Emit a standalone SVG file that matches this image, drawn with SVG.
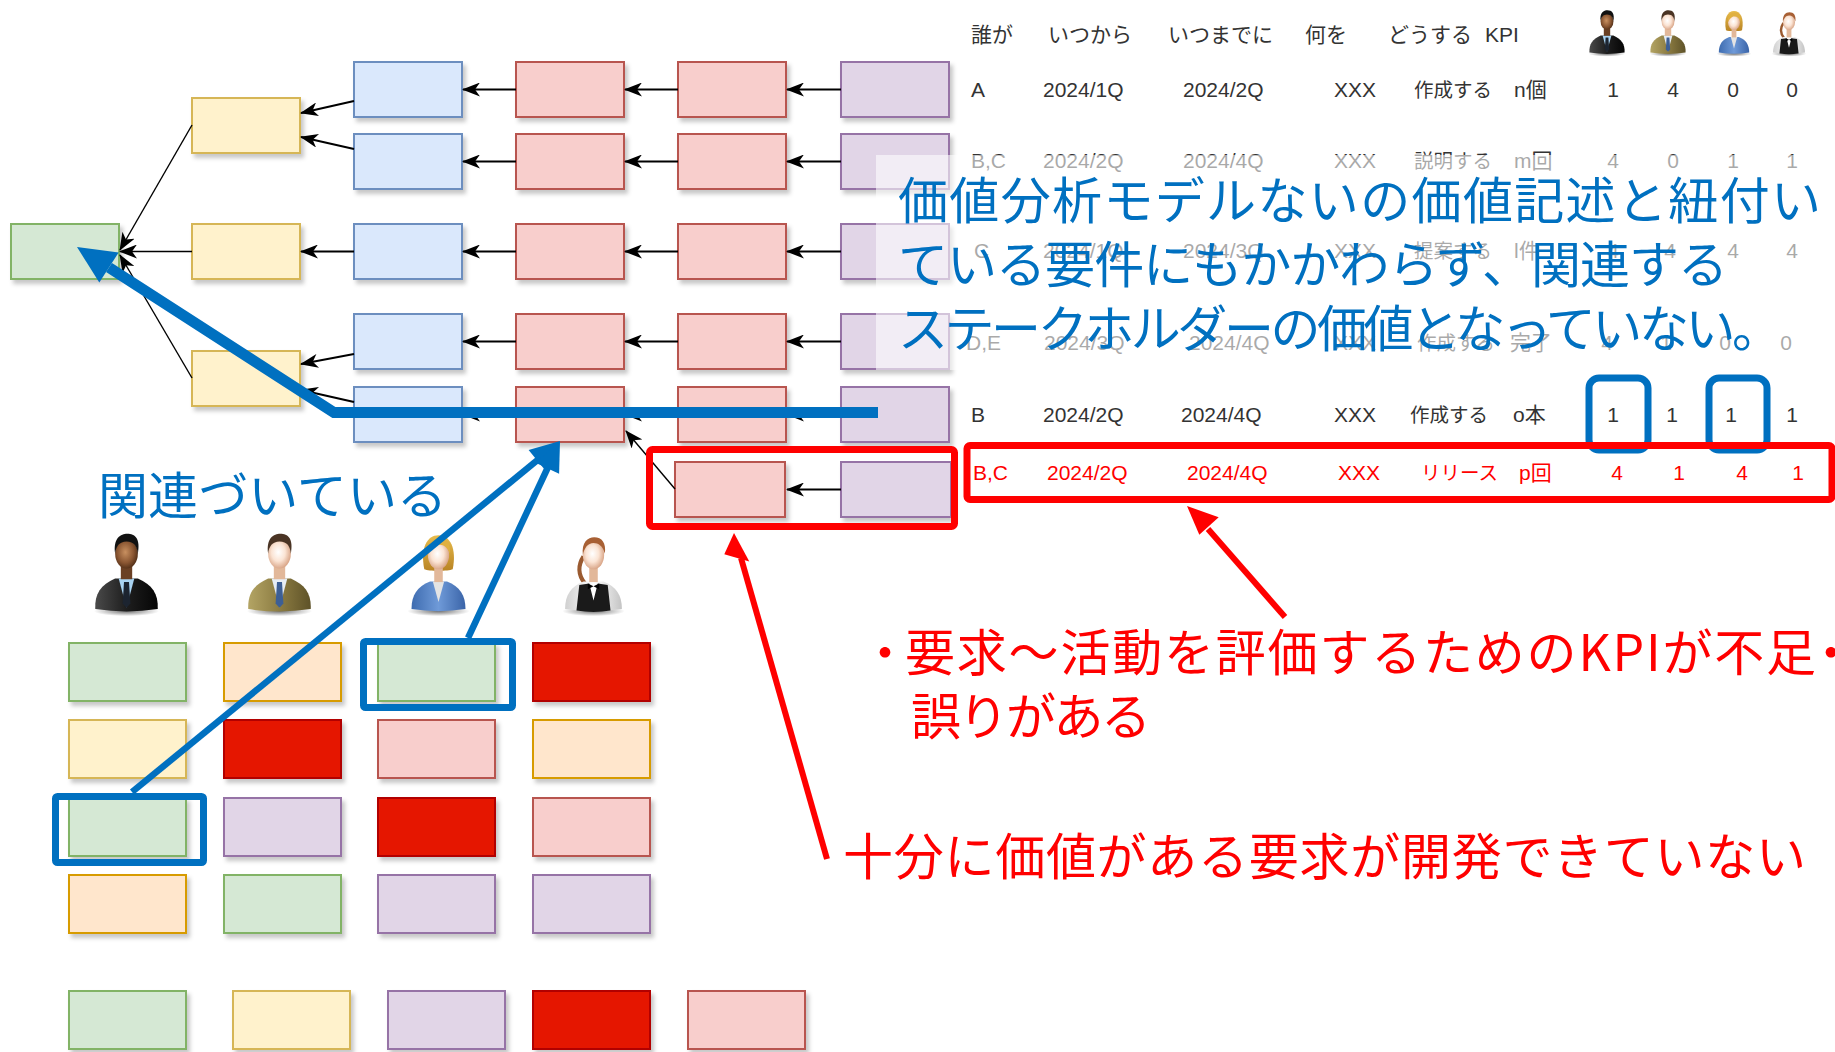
<svg xmlns="http://www.w3.org/2000/svg" xmlns:xlink="http://www.w3.org/1999/xlink" width="1835" height="1052" viewBox="0 0 1835 1052">
  <style>
    .bx{stroke-width:2;filter:url(#sh)}
    .g{fill:#d5e8d4;stroke:#82b366}
    .y{fill:#fff2cc;stroke:#d6b656}
    .b{fill:#dae8fc;stroke:#6c8ebf}
    .r{fill:#f8cecc;stroke:#b85450}
    .p{fill:#e1d5e7;stroke:#9673a6}
    .o{fill:#ffe6cc;stroke:#d79b00}
    .d{fill:#e51400;stroke:#b20000}
    .c{fill:none;stroke:#000;stroke-width:2;marker-end:url(#ah)}
    .thin{stroke-width:1.4}
    .tb{font-family:"Liberation Sans","Noto Sans CJK JP",sans-serif;font-size:21px;fill:#333}
    .tj{font-size:19.5px}
    .n{text-anchor:middle}
    .rt{fill:#ff0000}
    .big{font-family:"Noto Sans CJK JP",sans-serif;font-size:50px}
    .blue{fill:#0070c0}
    .red{fill:#ff0000}
    .hlb{fill:none;stroke:#0070c0;stroke-width:7}
    .hlr{fill:none;stroke:#ff0000;stroke-width:7}
  </style>
  <defs>
    <filter id="sh" x="-10%" y="-10%" width="130%" height="145%">
      <feDropShadow dx="3" dy="4" stdDeviation="2" flood-color="#000" flood-opacity="0.22"/>
    </filter>
    <marker id="ah" viewBox="0 0 18 14" refX="17" refY="7" markerWidth="18" markerHeight="14" markerUnits="userSpaceOnUse" orient="auto">
      <path d="M0,0 L18,7 L0,14 L5,7 Z" fill="#000"/>
    </marker>
    <radialGradient id="shd" cx="0.5" cy="0.5" r="0.5">
      <stop offset="0" stop-color="#000" stop-opacity="0.55"/>
      <stop offset="1" stop-color="#000" stop-opacity="0"/>
    </radialGradient>
    <radialGradient id="skinL" cx="0.45" cy="0.45" r="0.6">
      <stop offset="0" stop-color="#ffffff"/>
      <stop offset="0.5" stop-color="#fbe4d4"/>
      <stop offset="1" stop-color="#d49c7c"/>
    </radialGradient>
    <radialGradient id="skinD" cx="0.45" cy="0.45" r="0.6">
      <stop offset="0" stop-color="#c89060"/>
      <stop offset="0.6" stop-color="#8a5632"/>
      <stop offset="1" stop-color="#4a2a14"/>
    </radialGradient>
    <linearGradient id="suitK" x1="0" y1="0" x2="1" y2="0">
      <stop offset="0" stop-color="#4a4a4a"/>
      <stop offset="0.5" stop-color="#1e1e1e"/>
      <stop offset="1" stop-color="#050505"/>
    </linearGradient>
    <linearGradient id="suitO" x1="0" y1="0" x2="1" y2="0">
      <stop offset="0" stop-color="#b3a464"/>
      <stop offset="0.5" stop-color="#8c7c42"/>
      <stop offset="1" stop-color="#5e5228"/>
    </linearGradient>
    <linearGradient id="jackB" x1="0" y1="0" x2="1" y2="0">
      <stop offset="0" stop-color="#3e6cb0"/>
      <stop offset="0.5" stop-color="#6f9ad8"/>
      <stop offset="1" stop-color="#3a64a8"/>
    </linearGradient>
    <linearGradient id="shirtW" x1="0" y1="0" x2="1" y2="0">
      <stop offset="0" stop-color="#d0d0d0"/>
      <stop offset="0.5" stop-color="#ffffff"/>
      <stop offset="1" stop-color="#c4c4c4"/>
    </linearGradient>
    <linearGradient id="hairB" x1="0" y1="0" x2="0" y2="1">
      <stop offset="0" stop-color="#e8bc4c"/>
      <stop offset="1" stop-color="#b98424"/>
    </linearGradient>

    <!-- stakeholder figures, 100 x 125 local units -->
    <symbol id="man1" viewBox="0 0 100 125">
      <ellipse cx="50" cy="117" rx="46" ry="7" fill="url(#shd)"/>
      <path d="M6,114 C5,92 14,80 34,71 L66,71 C86,80 95,92 94,114 Q50,121 6,114 Z" fill="url(#suitK)"/>
      <path d="M39,71 L50,112 L61,71 Z" fill="#a9d3f2"/>
      <path d="M46.5,76 L53.5,76 L55.5,106 L50,112 L44.5,106 Z" fill="#1c2430"/>
      <rect x="42" y="52" width="16" height="20" fill="#6a4024"/>
      <ellipse cx="50" cy="36" rx="16" ry="21" fill="url(#skinD)"/>
      <path d="M34,36 C31,14 42,8 51,8 C62,8 70,15 66,36 C65,26 61,19 50,19 C40,19 35,26 34,36 Z" fill="#111"/>
    </symbol>
    <symbol id="man2" viewBox="0 0 100 125">
      <ellipse cx="50" cy="117" rx="46" ry="7" fill="url(#shd)"/>
      <path d="M6,114 C5,92 14,80 34,71 L66,71 C86,80 95,92 94,114 Q50,121 6,114 Z" fill="url(#suitO)"/>
      <path d="M39,71 L50,112 L61,71 Z" fill="#e6edf5"/>
      <path d="M46.5,76 L53.5,76 L55.5,106 L50,112 L44.5,106 Z" fill="#3d5f95"/>
      <rect x="42" y="52" width="16" height="20" fill="#e2b89a"/>
      <ellipse cx="50" cy="36" rx="16" ry="21" fill="url(#skinL)"/>
      <path d="M34,36 C31,14 42,8 51,8 C62,8 70,15 66,36 C65,26 61,19 50,19 C40,19 35,26 34,36 Z" fill="#4a3424"/>
    </symbol>
    <symbol id="woman1" viewBox="0 0 100 125">
      <ellipse cx="50" cy="117" rx="44" ry="7" fill="url(#shd)"/>
      <path d="M30,58 C24,28 34,10 50,10 C66,10 76,28 70,58 C64,61 36,61 30,58 Z" fill="url(#hairB)"/>
      <path d="M12,114 C12,94 20,82 38,75 L62,75 C80,82 88,94 88,114 Q50,120 12,114 Z" fill="url(#jackB)"/>
      <path d="M42,75 L50,104 L58,75 Z" fill="#e4e4e4"/>
      <rect x="44" y="54" width="12" height="22" fill="#e2b89a"/>
      <ellipse cx="50" cy="38" rx="15" ry="20" fill="url(#skinL)"/>
      <path d="M35,38 C34,22 42,14 52,14 C62,14 67,22 66,36 C62,26 56,22 48,24 C42,26 38,32 35,38 Z" fill="#e0b040"/>
    </symbol>
    <symbol id="woman2" viewBox="0 0 100 125">
      <ellipse cx="50" cy="117" rx="44" ry="7" fill="url(#shd)"/>
      <path d="M36,40 C28,52 28,66 38,78" fill="none" stroke="#9a5a30" stroke-width="6"/>
      <path d="M10,114 C10,94 18,82 36,75 L64,75 C82,82 90,94 90,114 Q50,120 10,114 Z" fill="url(#shirtW)"/>
      <path d="M30,80 L44,78 L50,102 L56,78 L70,80 L74,116 Q50,120 26,116 Z" fill="#1a1a1a"/>
      <path d="M42,78 L50,82 L58,78 L58,86 L50,82 L42,86 Z" fill="#000"/>
      <rect x="44" y="54" width="12" height="22" fill="#e2b89a"/>
      <ellipse cx="50" cy="38" rx="15" ry="20" fill="url(#skinL)"/>
      <path d="M35,38 C33,20 42,13 51,13 C62,13 68,21 66,36 C63,25 57,21 50,21 C42,21 37,28 35,38 Z" fill="#a86034"/>
    </symbol>
  </defs>

  <rect width="1835" height="1052" fill="#ffffff"/>

  <!-- value tree: root, value groups and requirement chains -->
  <g id="tree">
    <g id="root"><rect class="bx g" x="11" y="224" width="108" height="55"/></g>
    <g id="v1"><rect class="bx y" x="192" y="98" width="108" height="55"/></g>
    <g id="v2"><rect class="bx y" x="192" y="224" width="108" height="55"/></g>
    <g id="v3"><rect class="bx y" x="192" y="351" width="108" height="55"/></g>

    <g id="b1"><rect class="bx b" x="354" y="62" width="108" height="55"/></g>
    <g id="b2"><rect class="bx b" x="354" y="134" width="108" height="55"/></g>
    <g id="b3"><rect class="bx b" x="354" y="224" width="108" height="55"/></g>
    <g id="b4"><rect class="bx b" x="354" y="314" width="108" height="55"/></g>
    <g id="b5"><rect class="bx b" x="354" y="387" width="108" height="55"/></g>

    <g id="ra1"><rect class="bx r" x="516" y="62" width="108" height="55"/></g>
    <g id="ra2"><rect class="bx r" x="516" y="134" width="108" height="55"/></g>
    <g id="ra3"><rect class="bx r" x="516" y="224" width="108" height="55"/></g>
    <g id="ra4"><rect class="bx r" x="516" y="314" width="108" height="55"/></g>
    <g id="ra5"><rect class="bx r" x="516" y="387" width="108" height="55"/></g>

    <g id="rb1"><rect class="bx r" x="678" y="62" width="108" height="55"/></g>
    <g id="rb2"><rect class="bx r" x="678" y="134" width="108" height="55"/></g>
    <g id="rb3"><rect class="bx r" x="678" y="224" width="108" height="55"/></g>
    <g id="rb4"><rect class="bx r" x="678" y="314" width="108" height="55"/></g>
    <g id="rb5"><rect class="bx r" x="678" y="387" width="108" height="55"/></g>
    <g id="rb6"><rect class="bx r" x="675" y="462" width="110" height="55"/></g>

    <g id="p1"><rect class="bx p" x="841" y="62" width="108" height="55"/></g>
    <g id="p2"><rect class="bx p" x="841" y="134" width="108" height="55"/></g>
    <g id="p3"><rect class="bx p" x="841" y="224" width="108" height="55"/></g>
    <g id="p4"><rect class="bx p" x="841" y="314" width="108" height="55"/></g>
    <g id="p5"><rect class="bx p" x="841" y="387" width="108" height="55"/></g>
    <g id="p6"><rect class="bx p" x="841" y="462" width="110" height="55"/></g>
  </g>

  <!-- tree connectors -->
  <g id="connectors">
    <path class="c" d="M841,89.5 L787,89.5"/>
    <path class="c" d="M678,89.5 L625,89.5"/>
    <path class="c" d="M516,89.5 L463,89.5"/>
    <path class="c" d="M841,161.5 L787,161.5"/>
    <path class="c" d="M678,161.5 L625,161.5"/>
    <path class="c" d="M516,161.5 L463,161.5"/>
    <path class="c" d="M841,251.5 L787,251.5"/>
    <path class="c" d="M678,251.5 L625,251.5"/>
    <path class="c" d="M516,251.5 L463,251.5"/>
    <path class="c" d="M841,341.5 L787,341.5"/>
    <path class="c" d="M678,341.5 L625,341.5"/>
    <path class="c" d="M516,341.5 L463,341.5"/>
    <path class="c" d="M841,414.5 L787,414.5"/>
    <path class="c" d="M678,414.5 L625,414.5"/>
    <path class="c" d="M516,414.5 L463,414.5"/>
    <path class="c" d="M841,489.5 L787,489.5"/>
    <path class="c thin" d="M675,489 L626,431"/>

    <path class="c" d="M354,101 L301,113"/>
    <path class="c" d="M354,149 L301,137"/>
    <path class="c" d="M354,251.5 L301,251.5"/>
    <path class="c" d="M354,354 L301,364"/>
    <path class="c" d="M354,402 L301,390"/>

    <path class="c thin" d="M192,125 L120,250"/>
    <path class="c thin" d="M192,251.5 L120,251.5"/>
    <path class="c thin" d="M192,378 L120,255"/>
  </g>

  <!-- action table -->
  <g id="table">
    <g id="head" class="tb">
      <text x="971" y="42">誰が</text>
      <text x="1048" y="42">いつから</text>
      <text x="1168" y="42">いつまでに</text>
      <text x="1305" y="42">何を</text>
      <text x="1388" y="42">どうする</text>
      <text x="1485" y="42">KPI</text>
    </g>
    <g id="stakeholders-top">
      <use href="#man1" x="1587" y="7" width="40" height="50"/>
      <use href="#man2" x="1648" y="7" width="40" height="50"/>
      <use href="#woman1" x="1714" y="7" width="40" height="50"/>
      <use href="#woman2" x="1769" y="7" width="40" height="50"/>
    </g>
    <g id="rowA" class="tb">
      <text x="971" y="97">A</text>
      <text x="1043" y="97">2024/1Q</text>
      <text x="1183" y="97">2024/2Q</text>
      <text x="1334" y="97">XXX</text>
      <text class="tj" x="1414" y="97">作成する</text>
      <text x="1514" y="97">n個</text>
      <text class="n" x="1613" y="97">1</text>
      <text class="n" x="1673" y="97">4</text>
      <text class="n" x="1733" y="97">0</text>
      <text class="n" x="1792" y="97">0</text>
    </g>
    <g id="rowBC" class="tb">
      <text x="971" y="168">B,C</text>
      <text x="1043" y="168">2024/2Q</text>
      <text x="1183" y="168">2024/4Q</text>
      <text x="1334" y="168">XXX</text>
      <text class="tj" x="1414" y="168">説明する</text>
      <text x="1514" y="168">m回</text>
      <text class="n" x="1613" y="168">4</text>
      <text class="n" x="1673" y="168">0</text>
      <text class="n" x="1733" y="168">1</text>
      <text class="n" x="1792" y="168">1</text>
    </g>
    <g id="rowC" class="tb">
      <text x="974" y="258">C</text>
      <text x="1043" y="258">2024/1Q</text>
      <text x="1183" y="258">2024/3Q</text>
      <text x="1334" y="258">XXX</text>
      <text class="tj" x="1414" y="258">提案する</text>
      <text x="1514" y="258">l件</text>
      <text class="n" x="1613" y="258">4</text>
      <text class="n" x="1670" y="258">4</text>
      <text class="n" x="1733" y="258">4</text>
      <text class="n" x="1792" y="258">4</text>
    </g>
    <g id="rowDE" class="tb">
      <text x="966" y="350">D,E</text>
      <text x="1044" y="350">2024/3Q</text>
      <text x="1189" y="350">2024/4Q</text>
      <text x="1334" y="350">XXX</text>
      <text class="tj" x="1417" y="350">作成する</text>
      <text x="1510" y="350">完了</text>
      <text class="n" x="1607" y="350">4</text>
      <text class="n" x="1666" y="350">1</text>
      <text class="n" x="1725" y="350">0</text>
      <text class="n" x="1786" y="350">0</text>
    </g>
    <g id="rowB" class="tb">
      <text x="971" y="422">B</text>
      <text x="1043" y="422">2024/2Q</text>
      <text x="1181" y="422">2024/4Q</text>
      <text x="1334" y="422">XXX</text>
      <text class="tj" x="1410" y="422">作成する</text>
      <text x="1513" y="422">o本</text>
      <text class="n" x="1613" y="422">1</text>
      <text class="n" x="1672" y="422">1</text>
      <text class="n" x="1731" y="422">1</text>
      <text class="n" x="1792" y="422">1</text>
    </g>
    <g id="rowBC2" class="tb rt">
      <text x="973" y="480">B,C</text>
      <text x="1047" y="480">2024/2Q</text>
      <text x="1187" y="480">2024/4Q</text>
      <text x="1338" y="480">XXX</text>
      <text class="tj" x="1421" y="480">リリース</text>
      <text x="1519" y="480">p回</text>
      <text class="n" x="1617" y="480">4</text>
      <text class="n" x="1679" y="480">1</text>
      <text class="n" x="1742" y="480">4</text>
      <text class="n" x="1798" y="480">1</text>
    </g>
  </g>

  <!-- translucent backing of the value note -->
  <rect x="876" y="155" width="959" height="215" fill="#ffffff" fill-opacity="0.58"/>

  <!-- stakeholder value grid -->
  <g id="stakeholders">
    <use href="#man1" x="91" y="528" width="71" height="89"/>
    <use href="#man2" x="244" y="528" width="71" height="89"/>
    <use href="#woman1" x="403" y="528" width="71" height="89"/>
    <use href="#woman2" x="558" y="528" width="71" height="89"/>
  </g>
  <g id="grid">
    <g id="g11"><rect class="bx g" x="69" y="643" width="117" height="58"/></g>
    <g id="g12"><rect class="bx o" x="224" y="643" width="117" height="58"/></g>
    <g id="g13"><rect class="bx g" x="378" y="643" width="117" height="58"/></g>
    <g id="g14"><rect class="bx d" x="533" y="643" width="117" height="58"/></g>
    <g id="g21"><rect class="bx y" x="69" y="720" width="117" height="58"/></g>
    <g id="g22"><rect class="bx d" x="224" y="720" width="117" height="58"/></g>
    <g id="g23"><rect class="bx r" x="378" y="720" width="117" height="58"/></g>
    <g id="g24"><rect class="bx o" x="533" y="720" width="117" height="58"/></g>
    <g id="g31"><rect class="bx g" x="69" y="798" width="117" height="58"/></g>
    <g id="g32"><rect class="bx p" x="224" y="798" width="117" height="58"/></g>
    <g id="g33"><rect class="bx d" x="378" y="798" width="117" height="58"/></g>
    <g id="g34"><rect class="bx r" x="533" y="798" width="117" height="58"/></g>
    <g id="g41"><rect class="bx o" x="69" y="875" width="117" height="58"/></g>
    <g id="g42"><rect class="bx g" x="224" y="875" width="117" height="58"/></g>
    <g id="g43"><rect class="bx p" x="378" y="875" width="117" height="58"/></g>
    <g id="g44"><rect class="bx p" x="533" y="875" width="117" height="58"/></g>
    <g id="l1"><rect class="bx g" x="69" y="991" width="117" height="58"/></g>
    <g id="l2"><rect class="bx y" x="233" y="991" width="117" height="58"/></g>
    <g id="l3"><rect class="bx p" x="388" y="991" width="117" height="58"/></g>
    <g id="l4"><rect class="bx d" x="533" y="991" width="117" height="58"/></g>
    <g id="l5"><rect class="bx r" x="688" y="991" width="117" height="58"/></g>
  </g>

  <!-- highlight frames -->
  <g id="highlights">
    <rect class="hlb" x="363.5" y="641.5" width="149" height="66" rx="2"/>
    <rect class="hlb" x="55.5" y="796.5" width="148" height="66" rx="2"/>
    <rect class="hlb" x="1589" y="378" width="59" height="72" rx="10" stroke-width="6"/>
    <rect class="hlb" x="1709" y="378" width="58" height="72" rx="10" stroke-width="6"/>
    <rect class="hlr" x="649.5" y="449.5" width="305" height="77" rx="3"/>
    <rect class="hlr" x="967" y="445.5" width="865" height="54" rx="3" stroke-width="6.5"/>
  </g>

  <!-- annotation arrows -->
  <g id="callouts">
    <polyline points="878,412.5 334,412.5 109,267.5" fill="none" stroke="#0070c0" stroke-width="11" stroke-linejoin="miter"/>
    <polygon points="77,247 118.7,252.4 99.3,282.6" fill="#0070c0"/>

    <line x1="132" y1="792" x2="540" y2="458" stroke="#0070c0" stroke-width="6.5"/>
    <polygon points="560,441 545,470.1 528.6,449.9" fill="#0070c0"/>
    <line x1="468" y1="638" x2="549" y2="465" stroke="#0070c0" stroke-width="6.5"/>
    <polygon points="560,441 559.1,473.7 535.5,462.7" fill="#0070c0"/>

    <line x1="1285" y1="617" x2="1208" y2="529" stroke="#ff0000" stroke-width="6"/>
    <polygon points="1187,506 1218.7,517.3 1199.3,534.7" fill="#ff0000"/>
    <line x1="827" y1="859" x2="741" y2="558" stroke="#ff0000" stroke-width="6"/>
    <polygon points="734,533 749.3,561.4 724.3,554.3" fill="#ff0000"/>
  </g>

  <!-- annotation texts -->
  <g id="notes">
    <text class="big blue" x="898" y="219" textLength="923" lengthAdjust="spacing">価値分析モデルないの価値記述と紐付い</text>
    <text class="big blue" x="898" y="283" textLength="830" lengthAdjust="spacing">ている要件にもかかわらず、関連する</text>
    <text class="big blue" x="898" y="347" textLength="884" lengthAdjust="spacing">ステークホルダーの価値となっていない。</text>
    <text class="big blue" x="98" y="514" textLength="349" lengthAdjust="spacing">関連づいている</text>
    <text class="big red" x="860" y="671">・</text>
    <text class="big red" x="905" y="671" textLength="911" lengthAdjust="spacing">要求～活動を評価するためのKPIが不足</text>
    <text class="big red" x="1806" y="671">・</text>
    <text class="big red" x="911" y="735" textLength="240" lengthAdjust="spacing">誤りがある</text>
    <text class="big red" x="843" y="875" textLength="963" lengthAdjust="spacing">十分に価値がある要求が開発できていない</text>
  </g>
</svg>
